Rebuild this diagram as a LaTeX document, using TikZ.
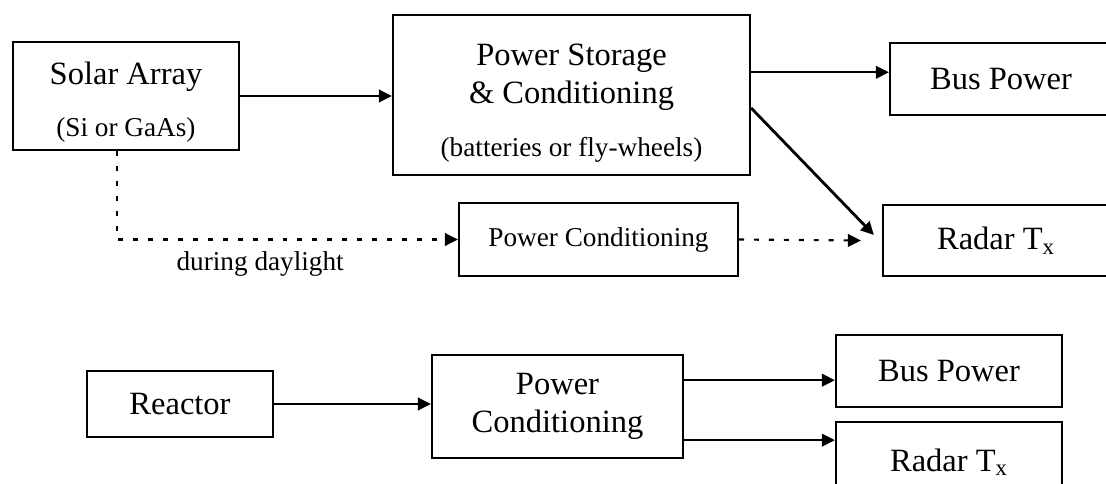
\documentclass[tikz,border=0pt]{standalone}
\usepackage{fontspec}
\setmainfont{Liberation Serif}
\usetikzlibrary{arrows.meta,calc}
\newcommand{\lgfont}{\fontsize{18.5}{21.6}\selectfont}
\newcommand{\smfont}{\fontsize{15.5}{19}\selectfont}
\tikzset{
  blk/.style={draw, line width=1.25pt, align=center, font=\lgfont, inner sep=2pt},
  flow/.style={-{Triangle[length=2.6mm,width=2.5mm]}, line width=1.25pt},
  dflow/.style={flow, dash pattern=on 2.8pt off 5.7pt},
}

\begin{document}
\begin{tikzpicture}
    \useasboundingbox (0,0) rectangle (22.12,-9.68);
    % --- solar branch ---
    \node[blk, minimum width=45.2mm, minimum height=21.6mm] (sa) at (2.52,-1.92)
      {\rule{0pt}{20pt}Solar Array\\[8pt]{\smfont (Si or GaAs)}};
    \node[blk, minimum width=71.4mm, minimum height=32mm] (ps) at (11.43,-1.9)
      {\rule{0pt}{22pt}Power Storage\\\& Conditioning\\[8.5pt]{\smfont (batteries or fly-wheels)}};
    \node[blk, minimum width=44.4mm, minimum height=14.4mm] (bp1) at (20.02,-1.58) {Bus Power};
    \node[blk, font=\smfont, minimum width=55.8mm, minimum height=14.6mm] (pcm) at (11.97,-4.79)
      {Power Conditioning};
    \node[blk, minimum width=45.2mm, minimum height=14.2mm] (rt1) at (19.92,-4.81)
      {Radar T\textsubscript{x}};
    \draw[flow] (sa.east) -- (sa.east -| ps.west);
    \coordinate (psA) at ($(ps.north east)!0.36!(ps.south east)$);
    \coordinate (psB) at ($(ps.north east)!0.58!(ps.south east)$);
    \draw[flow] (psA) -- (psA -| bp1.west);
    \draw[flow, line width=1.6pt] (psB) -- ([xshift=-1.6mm,yshift=1.1mm]rt1.west);
    \draw[dflow] ([xshift=-1.8mm]sa.south) |- node[pos=0.71, below=1mm, font=\smfont]
      {during daylight} (pcm.west);
    \draw[dflow] (pcm.east) -- ([xshift=-4.2mm]rt1.west);
    % --- reactor branch ---
    \node[blk, minimum width=37.2mm, minimum height=13.2mm] (re) at (3.6,-8.08) {Reactor};
    \node[blk, minimum width=50.2mm, minimum height=20.6mm] (pcb) at (11.15,-8.13)
      {Power\\Conditioning};
    \node[blk, minimum width=45.2mm, minimum height=14.4mm] (bp2) at (18.98,-7.42) {Bus Power};
    \node[blk, minimum width=45.2mm, minimum height=16mm] (rt2) at (18.98,-9.24)
      {Radar T\textsubscript{x}};
    \draw[flow] (re.east) -- (re.east -| pcb.west);
    \coordinate (pcA) at ($(pcb.north east)!0.25!(pcb.south east)$);
    \coordinate (pcB) at ($(pcb.north east)!0.82!(pcb.south east)$);
    \draw[flow] (pcA) -- (pcA -| bp2.west);
    \draw[flow] (pcB) -- (pcB -| rt2.west);
\end{tikzpicture}
\end{document}
